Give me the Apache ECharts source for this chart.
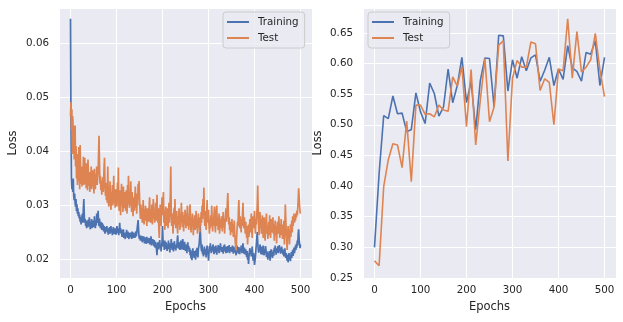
<!DOCTYPE html>
<html><head><meta charset="utf-8">
<script src="https://cdn.jsdelivr.net/npm/echarts@6/dist/echarts.min.js"></script>
<style>html,body{margin:0;padding:0;background:#fff}#c{width:623px;height:322px}</style>
</head><body><div id="c"></div>
<script>
const seriesNames = ['Training', 'Test'];

// Left panel: per-epoch loss, epochs 0..500
const leftTraining = [
0.0645,0.0460,0.0350,0.0330,0.0345,0.0325,0.0350,0.0318,0.0310,0.0322,
0.0305,0.0298,0.0312,0.0290,0.0302,0.0285,0.0295,0.0280,0.0288,0.0276,
0.0283,0.0270,0.0278,0.0265,0.0275,0.0272,0.0285,0.0268,0.0295,0.0312,
0.0280,0.0268,0.0275,0.0262,0.0270,0.0258,0.0272,0.0266,0.0260,0.0274,
0.0262,0.0278,0.0265,0.0256,0.0270,0.0262,0.0275,0.0258,0.0268,0.0262,
0.0272,0.0260,0.0280,0.0265,0.0258,0.0270,0.0263,0.0285,0.0268,0.0275,
0.0290,0.0272,0.0262,0.0276,0.0265,0.0258,0.0270,0.0262,0.0255,0.0268,
0.0258,0.0265,0.0252,0.0262,0.0256,0.0248,0.0260,0.0252,0.0258,0.0262,
0.0250,0.0256,0.0246,0.0258,0.0252,0.0260,0.0248,0.0255,0.0262,0.0250,
0.0256,0.0245,0.0252,0.0260,0.0248,0.0254,0.0247,0.0258,0.0251,0.0246,
0.0255,0.0262,0.0249,0.0258,0.0252,0.0245,0.0256,0.0268,0.0250,0.0258,
0.0248,0.0255,0.0242,0.0252,0.0246,0.0256,0.0240,0.0250,0.0245,0.0238,
0.0250,0.0243,0.0255,0.0246,0.0240,0.0252,0.0244,0.0238,0.0249,0.0243,
0.0250,0.0241,0.0247,0.0238,0.0252,0.0244,0.0240,0.0250,0.0243,0.0248,
0.0240,0.0246,0.0252,0.0243,0.0249,0.0258,0.0265,0.0273,0.0255,0.0242,
0.0238,0.0245,0.0235,0.0242,0.0236,0.0244,0.0232,0.0240,0.0235,0.0243,
0.0236,0.0230,0.0241,0.0234,0.0238,0.0229,0.0242,0.0235,0.0231,0.0239,
0.0232,0.0240,0.0228,0.0236,0.0230,0.0243,0.0226,0.0234,0.0229,0.0238,
0.0231,0.0225,0.0236,0.0228,0.0222,0.0233,0.0226,0.0218,0.0208,0.0224,
0.0232,0.0225,0.0219,0.0230,0.0236,0.0222,0.0228,0.0215,0.0226,0.0233,
0.0262,0.0238,0.0224,0.0230,0.0218,0.0235,0.0226,0.0220,0.0232,0.0224,
0.0216,0.0228,0.0222,0.0235,0.0219,0.0226,0.0213,0.0230,0.0222,0.0238,
0.0226,0.0218,0.0231,0.0221,0.0215,0.0228,0.0234,0.0220,0.0226,0.0217,
0.0228,0.0222,0.0236,0.0245,0.0230,0.0220,0.0232,0.0226,0.0218,0.0229,
0.0235,0.0224,0.0219,0.0230,0.0238,0.0225,0.0218,0.0227,0.0233,0.0221,
0.0216,0.0228,0.0222,0.0212,0.0226,0.0232,0.0219,0.0225,0.0214,0.0222,
0.0208,0.0218,0.0202,0.0215,0.0199,0.0212,0.0221,0.0206,0.0214,0.0203,
0.0216,0.0210,0.0200,0.0218,0.0207,0.0222,0.0212,0.0204,0.0219,0.0225,
0.0231,0.0245,0.0262,0.0238,0.0222,0.0215,0.0228,0.0210,0.0219,0.0206,
0.0215,0.0224,0.0209,0.0220,0.0213,0.0204,0.0218,0.0226,0.0210,0.0216,
0.0198,0.0212,0.0225,0.0216,0.0230,0.0219,0.0212,0.0224,0.0215,0.0222,
0.0228,0.0217,0.0210,0.0224,0.0219,0.0213,0.0226,0.0218,0.0209,0.0221,
0.0215,0.0227,0.0220,0.0212,0.0225,0.0218,0.0230,0.0221,0.0214,0.0223,
0.0217,0.0222,0.0211,0.0226,0.0219,0.0228,0.0215,0.0221,0.0212,0.0224,
0.0218,0.0213,0.0225,0.0220,0.0215,0.0227,0.0212,0.0219,0.0223,0.0216,
0.0222,0.0214,0.0226,0.0218,0.0211,0.0224,0.0217,0.0213,0.0221,0.0215,
0.0208,0.0220,0.0226,0.0214,0.0219,0.0211,0.0223,0.0216,0.0210,0.0221,
0.0215,0.0226,0.0218,0.0212,0.0224,0.0230,0.0217,0.0211,0.0222,0.0215,
0.0209,0.0219,0.0213,0.0205,0.0216,0.0200,0.0211,0.0192,0.0206,0.0215,
0.0221,0.0210,0.0218,0.0206,0.0213,0.0224,0.0209,0.0198,0.0212,0.0203,
0.0190,0.0187,0.0205,0.0218,0.0228,0.0240,0.0251,0.0232,0.0220,0.0213,
0.0222,0.0215,0.0228,0.0219,0.0210,0.0224,0.0216,0.0209,0.0220,0.0226,
0.0214,0.0208,0.0219,0.0212,0.0225,0.0217,0.0205,0.0215,0.0209,0.0200,
0.0212,0.0204,0.0216,0.0208,0.0198,0.0211,0.0219,0.0206,0.0214,0.0203,
0.0210,0.0218,0.0207,0.0222,0.0214,0.0226,0.0216,0.0209,0.0221,0.0213,
0.0219,0.0225,0.0212,0.0220,0.0227,0.0215,0.0222,0.0211,0.0218,0.0224,
0.0213,0.0220,0.0209,0.0217,0.0206,0.0214,0.0221,0.0208,0.0203,0.0212,
0.0205,0.0198,0.0209,0.0195,0.0204,0.0212,0.0200,0.0208,0.0197,0.0206,
0.0214,0.0203,0.0211,0.0218,0.0207,0.0215,0.0222,0.0212,0.0219,0.0226,
0.0218,0.0229,0.0222,0.0235,0.0226,0.0248,0.0256,0.0238,0.0230,0.0221,
0.0228
];
const leftTest = [
0.0465,0.0491,0.0440,0.0478,0.0395,0.0465,0.0420,0.0448,0.0385,0.0402,
0.0448,0.0372,0.0410,0.0350,0.0395,0.0338,0.0372,0.0345,0.0408,0.0362,
0.0330,0.0412,0.0355,0.0340,0.0372,0.0335,0.0358,0.0345,0.0390,0.0338,
0.0352,0.0388,0.0340,0.0365,0.0332,0.0378,0.0345,0.0328,0.0385,0.0350,
0.0336,0.0362,0.0325,0.0355,0.0340,0.0372,0.0330,0.0348,0.0365,0.0335,
0.0352,0.0322,0.0368,0.0340,0.0330,0.0358,0.0345,0.0372,0.0338,0.0350,
0.0362,0.0395,0.0429,0.0380,0.0340,0.0355,0.0328,0.0345,0.0320,0.0338,
0.0352,0.0325,0.0345,0.0372,0.0388,0.0335,0.0318,0.0342,0.0310,0.0330,
0.0305,0.0372,0.0322,0.0298,0.0335,0.0310,0.0345,0.0302,0.0292,0.0325,
0.0312,0.0338,0.0300,0.0318,0.0355,0.0305,0.0320,0.0296,0.0330,0.0310,
0.0325,0.0298,0.0342,0.0315,0.0370,0.0305,0.0290,0.0328,0.0312,0.0282,
0.0318,0.0340,0.0300,0.0322,0.0288,0.0335,0.0310,0.0295,0.0325,0.0305,
0.0290,0.0328,0.0312,0.0285,0.0338,0.0302,0.0355,0.0318,0.0296,0.0322,
0.0300,0.0345,0.0310,0.0288,0.0325,0.0298,0.0280,0.0315,0.0302,0.0290,
0.0318,0.0335,0.0295,0.0308,0.0285,0.0322,0.0300,0.0340,0.0312,0.0345,
0.0318,0.0290,0.0275,0.0302,0.0280,0.0295,0.0268,0.0285,0.0310,0.0278,
0.0265,0.0292,0.0282,0.0300,0.0272,0.0288,0.0262,0.0295,0.0275,0.0285,
0.0270,0.0298,0.0315,0.0285,0.0268,0.0290,0.0278,0.0302,0.0265,0.0288,
0.0312,0.0275,0.0292,0.0268,0.0285,0.0305,0.0272,0.0290,0.0320,0.0280,
0.0268,0.0295,0.0258,0.0240,0.0278,0.0302,0.0285,0.0262,0.0290,0.0315,
0.0282,0.0305,0.0325,0.0268,0.0290,0.0255,0.0275,0.0298,0.0262,0.0285,
0.0270,0.0295,0.0258,0.0280,0.0305,0.0268,0.0290,0.0320,0.0372,0.0290,
0.0262,0.0285,0.0270,0.0248,0.0278,0.0295,0.0265,0.0312,0.0280,0.0258,
0.0275,0.0290,0.0262,0.0248,0.0280,0.0265,0.0295,0.0272,0.0255,0.0285,
0.0268,0.0305,0.0278,0.0260,0.0288,0.0270,0.0252,0.0282,0.0265,0.0292,
0.0275,0.0258,0.0285,0.0268,0.0300,0.0262,0.0280,0.0255,0.0272,0.0295,
0.0302,0.0268,0.0250,0.0278,0.0260,0.0285,0.0270,0.0245,0.0275,0.0262,
0.0282,0.0255,0.0268,0.0290,0.0258,0.0275,0.0248,0.0268,0.0285,0.0260,
0.0272,0.0250,0.0278,0.0262,0.0288,0.0268,0.0300,0.0275,0.0312,0.0285,
0.0333,0.0278,0.0262,0.0290,0.0272,0.0255,0.0285,0.0310,0.0268,0.0280,
0.0292,0.0265,0.0248,0.0275,0.0258,0.0282,0.0262,0.0300,0.0270,0.0252,
0.0278,0.0262,0.0285,0.0298,0.0265,0.0250,0.0275,0.0290,0.0300,0.0262,
0.0278,0.0255,0.0270,0.0285,0.0248,0.0262,0.0275,0.0258,0.0280,0.0265,
0.0252,0.0270,0.0288,0.0260,0.0275,0.0248,0.0268,0.0282,0.0295,0.0270,
0.0285,0.0305,0.0323,0.0290,0.0265,0.0278,0.0255,0.0262,0.0245,0.0270,
0.0258,0.0275,0.0250,0.0265,0.0242,0.0260,0.0272,0.0248,0.0235,0.0225,
0.0217,0.0238,0.0255,0.0270,0.0262,0.0290,0.0310,0.0275,0.0258,0.0280,
0.0265,0.0250,0.0275,0.0262,0.0285,0.0305,0.0270,0.0258,0.0278,0.0262,
0.0248,0.0270,0.0255,0.0240,0.0262,0.0228,0.0250,0.0265,0.0242,0.0258,
0.0275,0.0250,0.0262,0.0285,0.0255,0.0240,0.0268,0.0280,0.0258,0.0272,
0.0290,0.0262,0.0248,0.0275,0.0265,0.0285,0.0300,0.0337,0.0290,0.0262,
0.0245,0.0270,0.0288,0.0258,0.0275,0.0248,0.0262,0.0282,0.0255,0.0240,
0.0265,0.0278,0.0250,0.0235,0.0260,0.0272,0.0285,0.0248,0.0262,0.0238,
0.0255,0.0270,0.0245,0.0282,0.0258,0.0240,0.0265,0.0275,0.0250,0.0262,
0.0278,0.0248,0.0265,0.0235,0.0258,0.0272,0.0245,0.0262,0.0230,0.0255,
0.0270,0.0248,0.0262,0.0280,0.0258,0.0240,0.0265,0.0252,0.0275,0.0245,
0.0258,0.0238,0.0265,0.0250,0.0272,0.0228,0.0260,0.0302,0.0275,0.0248,
0.0235,0.0218,0.0245,0.0262,0.0238,0.0255,0.0228,0.0248,0.0265,0.0242,
0.0258,0.0272,0.0250,0.0280,0.0262,0.0275,0.0285,0.0268,0.0280,0.0272,
0.0285,0.0278,0.0290,0.0282,0.0295,0.0310,0.0332,0.0318,0.0300,0.0288,
0.0285
];

// Right panel: evaluated every 10 epochs
const rightEpochs = [0,10,20,30,40,50,60,70,80,90,100,110,120,130,140,150,160,170,180,190,200,210,220,230,240,250,260,270,280,290,300,310,320,330,340,350,360,370,380,390,400,410,420,430,440,450,460,470,480,490,500];
const rightTraining = [
0.300,0.420,0.515,0.510,0.547,0.518,0.519,0.489,0.492,0.552,
0.521,0.502,0.568,0.551,0.514,0.529,0.591,0.536,0.564,0.610,
0.536,0.571,0.492,0.572,0.609,0.608,0.529,0.646,0.645,0.555,
0.606,0.576,0.611,0.588,0.609,0.614,0.571,0.589,0.610,0.564,
0.591,0.574,0.629,0.593,0.587,0.571,0.618,0.615,0.637,0.564,
0.610
];
const rightTest = [
0.278,0.270,0.399,0.443,0.469,0.467,0.430,0.506,0.407,0.532,
0.532,0.517,0.518,0.513,0.532,0.524,0.522,0.578,0.563,0.595,
0.497,0.590,0.467,0.540,0.608,0.505,0.529,0.630,0.637,0.441,
0.576,0.605,0.594,0.594,0.635,0.632,0.556,0.575,0.569,0.500,
0.591,0.588,0.673,0.576,0.652,0.586,0.594,0.606,0.649,0.590,
0.546
];

const colors = ['#4C72B0', '#DD8452'];
const FONT = 'DejaVu Sans';
const TXT = '#262626';

const leftEpochs = leftTraining.map((_, i) => i);
const pairs = (xs, ys) => ys.map((v, i) => [xs[i], v]);

function xAxisFor(gi) {
  return {
    type: 'value', gridIndex: gi, min: -25, max: 525, splitNumber: 5,
    name: 'Epochs', nameLocation: 'middle', nameGap: 23,
    nameTextStyle: { fontFamily: FONT, fontSize: 11.5, color: TXT },
    axisLine: { show: false }, axisTick: { show: false },
    axisLabel: { fontFamily: FONT, fontSize: 10.3, color: TXT, margin: 7, showMinLabel: false, showMaxLabel: false },
    splitLine: { show: true, lineStyle: { color: '#ffffff', width: 1 } }
  };
}
function yAxisFor(gi, opts, showMin) {
  return Object.assign({
    type: 'value', gridIndex: gi,
    name: 'Loss', nameLocation: 'middle', nameGap: 40,
    nameTextStyle: { fontFamily: FONT, fontSize: 11.5, color: TXT },
    axisLine: { show: false }, axisTick: { show: false },
    axisLabel: { fontFamily: FONT, fontSize: 10.3, color: TXT, margin: 10, showMinLabel: showMin, showMaxLabel: false,
      formatter: v => v.toFixed(2) },
    splitLine: { show: true, lineStyle: { color: '#ffffff', width: 1 } }
  }, opts);
}
function legendAt(left) {
  return {
    left: left, top: 12, orient: 'vertical', data: seriesNames,
    icon: 'rect', itemWidth: 22, itemHeight: 2, itemGap: 4,
    padding: [4, 6, 4, 4], backgroundColor: 'rgba(234,234,242,0.8)',
    borderColor: '#cccccc', borderWidth: 1, borderRadius: 3,
    selectedMode: false,
    textStyle: { fontFamily: FONT, fontSize: 10.3, color: TXT, lineHeight: 12, padding: [0, 0, 0, 4] }
  };
}
function lineSeries(name, xi, data, color, w) {
  return { name: name, type: 'line', xAxisIndex: xi, yAxisIndex: xi, data: data,
    symbol: 'none', showSymbol: false, color: color,
    lineStyle: { width: w, color: color }, emphasis: { disabled: true }, animation: false };
}

const chart = echarts.init(document.getElementById('c'), null, { renderer: 'canvas' });
chart.setOption({
  animation: false,
  backgroundColor: '#ffffff',
  color: colors,
  grid: [
    { left: 59, right: 311, top: 8, bottom: 44, show: true, backgroundColor: '#EAEAF2', borderWidth: 0 },
    { left: 363, right: 7, top: 8, bottom: 44, show: true, backgroundColor: '#EAEAF2', borderWidth: 0 }
  ],
  xAxis: [xAxisFor(0), xAxisFor(1)],
  yAxis: [
    yAxisFor(0, { min: 0.0166, max: 0.0665, splitNumber: 5 }, false),
    yAxisFor(1, { min: 0.25, max: 0.6905, interval: 0.05, nameGap: 39 }, true)
  ],
  legend: [legendAt(223), legendAt(368)],
  series: [
    lineSeries(seriesNames[0], 0, pairs(leftEpochs, leftTraining), colors[0], 1.7),
    lineSeries(seriesNames[1], 0, pairs(leftEpochs, leftTest), colors[1], 1.7),
    lineSeries(seriesNames[0], 1, pairs(rightEpochs, rightTraining), colors[0], 1.6),
    lineSeries(seriesNames[1], 1, pairs(rightEpochs, rightTest), colors[1], 1.6)
  ]
});
</script></body></html>
